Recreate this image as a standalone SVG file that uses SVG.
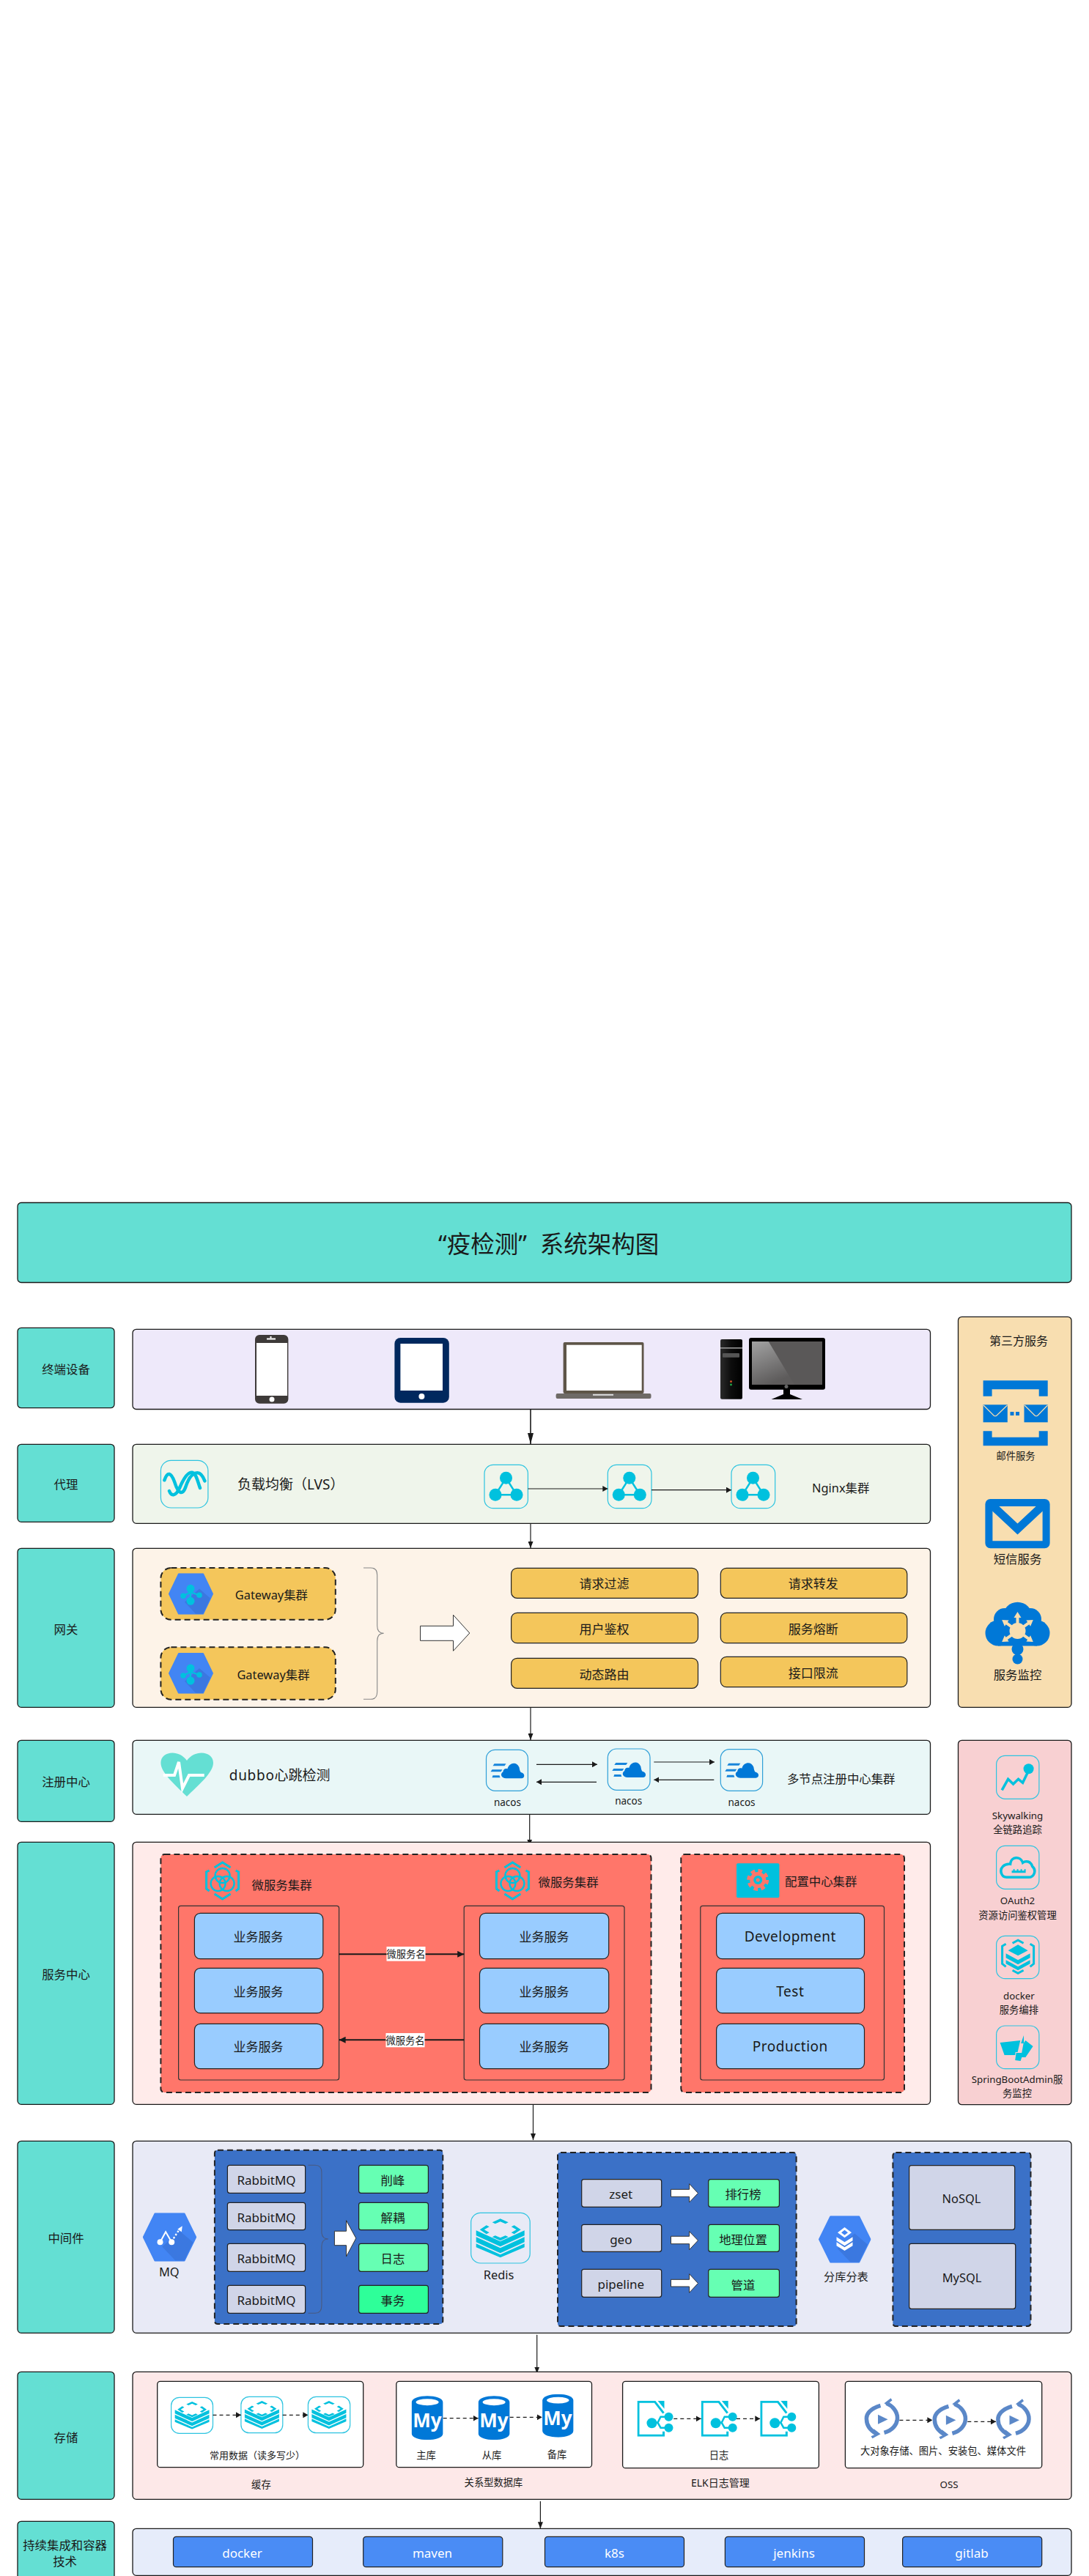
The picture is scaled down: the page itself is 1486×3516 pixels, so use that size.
<svg xmlns="http://www.w3.org/2000/svg" width="1486" height="3516" viewBox="0 0 1486 3516">
<style>
text{font-family:"Noto Sans","Noto Sans CJK SC",sans-serif;fill:#1a1a1a;text-anchor:middle;dominant-baseline:central}
.st{text-anchor:start}
.f13{font-size:13.3px}.f14{font-size:14px}.f16{font-size:16.4px}.f17{font-size:17px}.f19{font-size:19px}
.w{fill:#fff}
.b{stroke:#1a1a1a;stroke-width:1.3}
.lab{fill:#64dfd3;stroke:#1a1a1a;stroke-width:1.3}
.dash{stroke:#222;stroke-width:2;stroke-dasharray:8 5}
.ib{fill:none;stroke:#2cc4e0;stroke-width:1.2}
.ibn{fill:none;stroke:#2f9fd8;stroke-width:1.2}
.c{fill:#00c1de}
.ln{stroke:#00c1de;fill:none}
.blue{fill:#0078d7}
.yel{fill:#f4c65b;stroke:#222;stroke-width:1.2}
.sky{fill:#99ccff;stroke:#222;stroke-width:1.2}
.gry{fill:#d0d5e8;stroke:#222;stroke-width:1.2}
.grn{fill:#66ffb3;stroke:#222;stroke-width:1.2}
.btn{fill:#4a8cf5;stroke:#222;stroke-width:1.2}
.red{fill:#ff766a}
.navy{fill:#3b71c7}
.inr{fill:none;stroke:#333;stroke-width:1.2}
.wa{fill:#fff;stroke:#333;stroke-width:1}
.brace{fill:none;stroke:#888;stroke-width:1.1}
.cn{fill:none;stroke:#1a1a1a;stroke-width:1.2}
.dsh{fill:none;stroke:#1a1a1a;stroke-width:1.3;stroke-dasharray:5 4}
</style>
<defs>
<marker id="mBig" markerUnits="userSpaceOnUse" markerWidth="15" markerHeight="8" refX="15" refY="4" orient="auto"><path d="M0,0L15,4L0,8Z" fill="#1a1a1a"/></marker>
<marker id="mMid" markerUnits="userSpaceOnUse" markerWidth="9" markerHeight="7" refX="9" refY="3.5" orient="auto"><path d="M0,0L9,3.5L0,7Z" fill="#1a1a1a"/></marker>
<marker id="mSm" markerUnits="userSpaceOnUse" markerWidth="7" markerHeight="8" refX="7" refY="4" orient="auto"><path d="M0,0L7,4L0,8Z" fill="#1a1a1a"/></marker>
<marker id="mTh" markerUnits="userSpaceOnUse" markerWidth="9" markerHeight="9" refX="9" refY="4.5" orient="auto"><path d="M0,0L9,4.5L0,9Z" fill="#1a1a1a"/></marker>
<linearGradient id="gT" x1="0" x2="1" y1="0" y2="0"><stop offset="0" stop-color="#2a2a2a"/><stop offset=".5" stop-color="#0c0c0c"/><stop offset="1" stop-color="#000"/></linearGradient>
<linearGradient id="gS" x1="0" x2=".4" y1="0" y2="1"><stop offset="0" stop-color="#a2a2a2"/><stop offset="1" stop-color="#5d5b5b"/></linearGradient>
<symbol id="ngx" viewBox="0 0 60 60" overflow="visible"><path d="M29.500,18L15,41H44Z" fill="none" stroke="#00c1de" stroke-width="2.500"/><circle class="c" cx="29.500" cy="18" r="8.500"/><circle class="c" cx="15" cy="41" r="8.500"/><circle class="c" cx="44" cy="41" r="8.500"/></symbol>
<symbol id="nacos" viewBox="0 0 57 56" overflow="visible"><path class="blue" d="M27,39C21,39 18,33 23,30C23,26 27,25 29,26C31,18 41,15 45,24C46,30 47,31 48,31C53,32 53,39 48,39Z"/><path class="blue" d="M11,19H27L25,22H9ZM8,27H22L20,30H6ZM9,35H18L19,38H8Z" opacity=".9"/></symbol>
<symbol id="redis" viewBox="0 0 80 69"><g class="c"><path d="M40,8L51,13L47,15L40,12L33,15L29,13ZM21,17L25,19L18,23L25,27L21,29L12,23ZM59,17L68,23L59,29L55,27L62,23L55,19ZM33,31L40,34L47,31L51,33L40,38L29,33Z"/><path d="M7,24L40,39L73,24V31L40,46L7,31Z"/><path d="M7,33L40,48L73,33V40L40,55L7,40Z"/><path d="M7,42L40,57L73,42V47L40,61L7,47Z"/></g></symbol>
<symbol id="hex" viewBox="0 0 61 56" preserveAspectRatio="none"><path d="M14,1H47L60,28L47,55H14L1,28Z" fill="#4285f4" stroke="#4285f4" stroke-width="2" stroke-linejoin="round"/><path d="M42,21L57,34L47,55H37L22,39Z" fill="#3b78e0"/></symbol>
<g id="gwIn"><path class="ln" stroke-width="2.200" d="M30,20V38M30,26L20,31M30,26L42,30"/><circle class="c" cx="30" cy="21" r="5.500"/><circle class="c" cx="20" cy="31" r="3.800"/><circle class="c" cx="42" cy="30" r="3.800"/><circle class="c" cx="30" cy="38" r="5.500"/></g>
<symbol id="msv" viewBox="0 0 48 54"><path class="ln" stroke-width="3" d="M13,9L24,2L35,9M42,13L46,15V38L42,41M35,45L24,52L13,45M6,41L2,38V15L6,13"/><g class="ln" stroke-width="2.400"><circle cx="24" cy="20" r="10"/><circle cx="18" cy="31" r="10"/><circle cx="30" cy="31" r="10"/></g></symbol>
<symbol id="doc" viewBox="0 0 50 49"><path class="ln" stroke-width="3" d="M36,17L24,1.500H1.500V47.500H36V42"/><path class="c" d="M28,0H37V11Z"/><path class="ln" stroke-width="2.500" d="M20,30L28,30L32,22H43M28,30L32,37H43"/><circle class="c" cx="20" cy="30.500" r="7"/><circle class="c" cx="43" cy="22" r="6"/><circle class="c" cx="43" cy="37" r="6"/></symbol>
<symbol id="oss" viewBox="0 0 48 55" overflow="visible"><g fill="none" stroke="#5b88c8" stroke-width="5.500"><path d="M22,10C8,14 2,22 3,29C3,37 8,44 17,49"/><path d="M27,47C38,44 45,36 45,27C45,18 38,10 30,7"/></g><g fill="#5b88c8"><path d="M18.500,22.500L32,29L18.500,35.500Z"/><path d="M36,0L27,7L36,13L38,9L33,7L38,3Z"/><path d="M11,55L22,49L13,42L11,46L16,49L9,52Z"/></g></symbol>
<symbol id="my" viewBox="0 0 43 60"><path class="blue" d="M0,9C0,-3 43,-3 43,9V51C43,63 0,63 0,51Z"/><ellipse cx="21.500" cy="8.500" rx="15.500" ry="4.500" fill="#fff"/></symbol>
</defs>
<rect width="1486" height="3516" fill="#fff"/>

<g id="title"><rect x="24" y="1641.500" width="1438" height="109" rx="5" class="lab"/><text x="598" y="1697" font-size="32.500" class="st">“疫检测”<tspan dx="18">系统架构图</tspan></text></g>

<g id="connectors">
<path class="cn" style="stroke-width:1.600" d="M724,1923.500V1971" marker-end="url(#mBig)"/>
<path class="cn" d="M724,2079.300V2113" marker-end="url(#mMid)"/>
<path class="cn" d="M724,2330.300V2375" marker-end="url(#mMid)"/>
<path class="cn" d="M722.700,2476.300V2519.500" marker-end="url(#mMid)"/>
<path class="cn" d="M727.500,2872.300V2921" marker-end="url(#mMid)"/>
<path class="cn" d="M732.700,3186.700V3239.500" marker-end="url(#mMid)"/>
<path class="cn" d="M737.400,3414V3451.300" marker-end="url(#mMid)"/>
</g>

<g id="terminal-label"><rect x="24" y="1812.300" width="132" height="109.400" rx="5" class="lab"/><text x="90" y="1868" class="f16">终端设备</text></g>
<g id="terminal">
<rect x="181" y="1814.300" width="1088.500" height="109.200" rx="5" fill="#eee9fa" class="b"/>
<g id="phone"><rect x="348" y="1822" width="45.400" height="93.700" rx="6" fill="#3e3a39"/><rect x="350" y="1833" width="42" height="72" fill="#fff"/><circle cx="371" cy="1910" r="3.500" fill="#fff"/><rect x="364" y="1826.500" width="12" height="2" fill="#fff"/><rect x="368.500" y="1824" width="2" height="2.500" fill="#fff"/></g>
<g id="tablet"><rect x="538.400" y="1826" width="74.400" height="88.700" rx="8" fill="#00285e"/><rect x="546.400" y="1834" width="57.600" height="64" fill="#fff"/><circle cx="575.400" cy="1906" r="4" fill="#fff"/></g>
<g id="laptop"><rect x="768.600" y="1832" width="109.900" height="70" rx="2" fill="#5e5548"/><rect x="773" y="1835.700" width="102.700" height="62.300" fill="#fff"/><rect x="758.600" y="1902" width="129.900" height="7" rx="2" fill="#6e6a66"/><rect x="809" y="1902.800" width="28" height="2" fill="#ddd"/></g>
<g id="desktop"><rect x="983" y="1828" width="30" height="81.700" rx="2" fill="url(#gT)"/><rect x="983" y="1839" width="30" height="1.800" fill="#888"/><rect x="986" y="1847" width="23" height="5.700" rx="1" fill="#555"/><circle cx="997.500" cy="1885.700" r="1.400" fill="#d8552a"/><circle cx="997.500" cy="1890" r="1.400" fill="#1faa4a"/><rect x="1022" y="1826" width="104" height="70.700" rx="3" fill="#000"/><rect x="1026" y="1831" width="96" height="59" fill="#5a5858"/><path d="M1026,1831H1048.700L1084,1890H1026Z" fill="url(#gS)"/><circle cx="1073" cy="1892.500" r="2.500" fill="#666"/><path d="M1069,1896H1078V1903L1095,1910H1052.500L1069,1903Z" fill="#000"/></g>
</g>

<g id="proxy-label"><rect x="24" y="1971.300" width="132" height="106" rx="5" class="lab"/><text x="90" y="2025.700" class="f16">代理</text></g>
<g id="proxy">
<rect x="181" y="1971.300" width="1088.500" height="108" rx="5" fill="#eff5eb" class="b"/>
<g id="lvs"><rect x="219.400" y="1993.300" width="64.500" height="64.700" rx="14" class="ib"/><g fill="none" stroke="#00c1de" stroke-width="4.500" stroke-linecap="round"><path d="M224.400,2020.300C228.400,2008.300 233.400,2009.300 238.400,2023.300C243.400,2039.300 249.400,2041.300 253.400,2029.300C257.400,2017.300 262.400,2010.300 269.400,2010.300C274.400,2010.300 277.400,2016.300 279.400,2021.300"/><path d="M231,2035C234,2043 240,2042 245,2031C251,2017 257,2008 263,2010C268,2012 270,2023 273,2031"/></g></g>
<text x="324" y="2025.700" class="st f19">负载均衡（LVS）</text>
<g id="nginx1"><rect x="661" y="1999.300" width="59.400" height="59.400" rx="12" class="ib"/><use href="#ngx" x="661" y="1999.300" width="60" height="60"/></g>
<g id="nginx2"><rect x="829.300" y="1999.300" width="59.700" height="59.400" rx="12" class="ib"/><use href="#ngx" x="829.300" y="1999.300" width="60" height="60"/></g>
<g id="nginx3"><rect x="998" y="1999.300" width="59.700" height="59.400" rx="12" class="ib"/><use href="#ngx" x="998" y="1999.300" width="60" height="60"/></g>
<text x="1108" y="2030.700" class="st f16">Nginx集群</text>
<path class="cn" d="M720.400,2032H829.300" marker-end="url(#mSm)"/>
<path class="cn" d="M889,2033.700H998" marker-end="url(#mSm)"/>
</g>

<g id="gateway-label"><rect x="24" y="2113.300" width="132" height="217" rx="5" class="lab"/><text x="90" y="2223" class="f16">网关</text></g>
<g id="gateway">
<rect x="181" y="2113.300" width="1088.500" height="217" rx="5" fill="#fdf3e8" class="b"/>
<g id="gw1"><rect x="219.400" y="2140" width="238.400" height="70.700" rx="14" fill="#f4c65b" class="dash"/><use href="#hex" x="230" y="2147.300" width="61" height="56.400"/><use href="#gwIn" x="230" y="2147.300"/><text x="370.400" y="2176" class="f16">Gateway集群</text></g>
<g id="gw2"><rect x="219.400" y="2248.300" width="238.400" height="71.400" rx="14" fill="#f4c65b" class="dash"/><use href="#hex" x="230" y="2256" width="61" height="55.700"/><use href="#gwIn" x="230" y="2256"/><text x="373" y="2285.300" class="f16">Gateway集群</text></g>
<path class="brace" d="M496,2140H506Q514.700,2140 514.700,2150V2219Q514.700,2229.300 523.700,2229.300Q514.700,2229.300 514.700,2240V2309Q514.700,2319.300 506,2319.300H496"/>
<path class="wa" d="M573.500,2219.300H618.500V2204.300L640.800,2229L618.500,2253.300V2239.300H573.500Z"/>
<g id="b1"><rect x="697.600" y="2140.300" width="254.900" height="41" rx="8" class="yel"/><text x="824.500" y="2161" class="f17">请求过滤</text></g>
<g id="b2"><rect x="983.300" y="2140.300" width="254.500" height="41" rx="8" class="yel"/><text x="1109.800" y="2161" class="f17">请求转发</text></g>
<g id="b3"><rect x="697.600" y="2201.300" width="254.900" height="41.400" rx="8" class="yel"/><text x="824.500" y="2223" class="f17">用户鉴权</text></g>
<g id="b4"><rect x="983.300" y="2201.300" width="254.500" height="41.400" rx="8" class="yel"/><text x="1109.800" y="2223" class="f17">服务熔断</text></g>
<g id="b5"><rect x="697.600" y="2263.300" width="254.900" height="41" rx="8" class="yel"/><text x="824.500" y="2285" class="f17">动态路由</text></g>
<g id="b6"><rect x="983.300" y="2261.300" width="254.500" height="41.400" rx="8" class="yel"/><text x="1109.800" y="2283" class="f17">接口限流</text></g>
</g>

<g id="third-party">
<rect x="1307.500" y="1797.300" width="154.500" height="533" rx="5" fill="#f8deb0" class="b"/>
<text x="1390" y="1830" font-size="16">第三方服务</text>
<g id="mail"><path class="blue" d="M1341.600,1884.300H1429.700V1905.700H1417.700V1896.300H1353.600V1905.700H1341.600ZM1341.600,1953.300H1353.600V1961.700H1417.700V1953.300H1429.700V1973.300H1341.600Z"/><rect class="blue" x="1341.600" y="1917.300" width="33.200" height="24"/><rect class="blue" x="1397.500" y="1917.300" width="32.200" height="24"/><path d="M1342,1918L1356,1932Q1358,1933.500 1360,1932L1374.500,1918M1398,1918L1412,1932Q1414,1933.500 1416,1932L1429.500,1918" fill="none" stroke="#f8deb0" stroke-width="1.200"/><rect class="blue" x="1378.500" y="1927" width="5" height="5"/><rect class="blue" x="1386" y="1927" width="5" height="5"/><text x="1386" y="1987.300" class="f13">邮件服务</text></g>
<g id="sms"><rect x="1349.400" y="2051" width="78.200" height="57.300" rx="2" fill="none" stroke="#0078d7" stroke-width="10"/><path d="M1351,2052L1388.500,2087L1426,2052" fill="none" stroke="#0078d7" stroke-width="11"/><text x="1388.500" y="2127.300" class="f16">短信服务</text></g>
<g id="monitor"><g class="blue"><circle cx="1388.500" cy="2207" r="20.300"/><circle cx="1371" cy="2210" r="15"/><circle cx="1406" cy="2210" r="15"/><circle cx="1362" cy="2229" r="17.500"/><circle cx="1415" cy="2229" r="17.500"/><rect x="1362" y="2215" width="53" height="31.500"/><circle cx="1388.500" cy="2251" r="8"/><circle cx="1388.500" cy="2264.500" r="7"/></g><g transform="translate(1388.500 2226)" fill="#f8deb0"><circle r="11"/><path d="M-2,-9V-18H-5L0,-26L5,-18H2V-9Z"/><path d="M-2,-9V-18H-5L0,-26L5,-18H2V-9Z" transform="rotate(55)"/><path d="M-2,-9V-18H-5L0,-26L5,-18H2V-9Z" transform="rotate(-55)"/><path d="M-2,-9V-18H-5L0,-26L5,-18H2V-9Z" transform="rotate(125)"/><path d="M-2,-9V-18H-5L0,-26L5,-18H2V-9Z" transform="rotate(-125)"/></g><text x="1388.500" y="2285.700" class="f16">服务监控</text></g>
</g>

<g id="registry-label"><rect x="24" y="2375.300" width="132" height="111" rx="5" class="lab"/><text x="90" y="2431.700" class="f16">注册中心</text></g>
<g id="registry">
<rect x="181" y="2375.300" width="1088.500" height="101" rx="5" fill="#e9f7f7" class="b"/>
<g id="heart"><path d="M255,2452C240,2437 219.400,2420 219.400,2406C219.400,2390 244,2387 255,2403C266,2387 291,2390 291,2406C291,2420 270,2437 255,2452Z" fill="#64dfd3"/><path d="M222.700,2423H238L244,2405L249,2441L258,2423H278.700" fill="none" stroke="#fff" stroke-width="4"/></g>
<text x="312.800" y="2422.700" class="st f19"><tspan letter-spacing=".7">dubbo</tspan>心跳检测</text>
<g id="nacos1"><rect x="663.500" y="2388.300" width="56.900" height="56" rx="12" class="ibn"/><use href="#nacos" x="663.500" y="2388.300" width="57" height="56"/><text x="692.400" y="2460" font-size="13.500">nacos</text></g>
<g id="nacos2"><rect x="829.300" y="2387" width="57.700" height="56.300" rx="12" class="ibn"/><use href="#nacos" x="829.300" y="2387" width="57" height="56"/><text x="857.700" y="2457.700" font-size="13.500">nacos</text></g>
<g id="nacos3"><rect x="983.300" y="2387.700" width="57.300" height="56.600" rx="12" class="ibn"/><use href="#nacos" x="983.300" y="2387.700" width="57" height="56"/><text x="1012" y="2460" font-size="13.500">nacos</text></g>
<path class="cn" d="M732,2408.300H815" marker-end="url(#mSm)"/>
<path class="cn" d="M814,2432.300H732" marker-end="url(#mSm)"/>
<path class="cn" d="M892.300,2405H975" marker-end="url(#mSm)"/>
<path class="cn" d="M974.300,2429.300H892.300" marker-end="url(#mSm)"/>
<text x="1147.700" y="2427.700" class="f16">多节点注册中心集群</text>
</g>

<g id="ops">
<rect x="1307.500" y="2375.300" width="154.500" height="497.400" rx="5" fill="#f8d0d2" class="b"/>
<g id="skywalking"><rect x="1359.600" y="2396.300" width="58.300" height="59" rx="12" class="ib"/><path d="M1367.200,2443.300L1375.600,2428.300L1382.600,2435L1389.600,2428.300L1395.600,2433.300L1403.600,2416.600" class="ln" stroke-width="3.500"/><circle class="c" cx="1403.600" cy="2414.300" r="7"/><text x="1388.500" y="2477.700" class="f13">Skywalking</text><text x="1388.500" y="2497.300" class="f13">全链路追踪</text></g>
<g id="oauth"><rect x="1359.600" y="2519.300" width="58.300" height="59" rx="12" class="ib"/><path transform="translate(1359.600 2519.300)" class="ln" stroke-width="3.500" d="M14,43H44C52,43 55,33 49,28C47,21 40,20 36,23C33,14 20,14 19,25C11,24 4,30 7,38C8,41 11,43 14,43Z"/><path transform="translate(1359.600 2519.300)" class="c" d="M21,37V34H23V32H25V34H28V32H30V34H33V32H35V34H38V32H40V37Z"/><text x="1388.500" y="2594.300" class="f13">OAuth2</text><text x="1388.500" y="2614" class="f13">资源访问鉴权管理</text></g>
<g id="docker"><rect x="1359.600" y="2642.300" width="58.300" height="58.400" rx="12" class="ib"/><g transform="translate(1359.600 2642.300)"><path class="ln" stroke-width="3" d="M13,11L8,14V38L13,42M46,11L51,14V38L46,42M22,10L29.500,6L37,10M22,47L29.500,51L37,47"/><path class="c" d="M29.500,12L43,20L29.500,27L16,20ZM13,24L29.500,33L46,24V30L29.500,39L13,30ZM13,33L29.500,42L46,33V38L29.500,47L13,38Z"/></g><text x="1390.400" y="2723.700" class="f13">docker</text><text x="1390.400" y="2743.300" class="f13">服务编排</text></g>
<g id="sba"><rect x="1359.600" y="2765" width="58.300" height="58.700" rx="12" class="ib"/><path transform="translate(1359.600 2765)" class="c" d="M5,23L32.700,20L29,36H26L25.600,40H11ZM39.800,20L50,28L39.800,43H33.500L37,24ZM37.400,13L33.500,24H37.500ZM27,37H36.600L33,48L25.600,47Z"/><text x="1388" y="2838.300" class="f13">SpringBootAdmin服</text><text x="1388" y="2857.300" class="f13">务监控</text></g>
</g>

<g id="service-label"><rect x="24" y="2514.300" width="132" height="358" rx="5" class="lab"/><text x="90" y="2694.700" class="f16">服务中心</text></g>
<g id="service">
<rect x="181" y="2514.300" width="1088.500" height="358" rx="5" fill="#ffebea" class="b"/>
<g id="ms-cluster"><rect x="219.400" y="2531" width="669.100" height="325" rx="5" class="red dash"/>
<use href="#msv" x="279.600" y="2540" width="48" height="54"/><text x="343.600" y="2572.300" class="st f16">微服务集群</text>
<use href="#msv" x="675.400" y="2540" width="48" height="54"/><text x="734.600" y="2568.300" class="st f16">微服务集群</text>
<rect x="243.600" y="2601.300" width="219" height="237.700" rx="3" class="inr"/>
<rect x="633.200" y="2601.300" width="218.800" height="237.700" rx="3" class="inr"/>
<g id="s1"><rect x="265.400" y="2611.300" width="175.400" height="62.400" rx="8" class="sky"/><text x="352.600" y="2643.300" class="f17">业务服务</text></g>
<g id="s2"><rect x="265.400" y="2686.300" width="175.400" height="61.400" rx="8" class="sky"/><text x="352.600" y="2718" class="f17">业务服务</text></g>
<g id="s3"><rect x="265.400" y="2762.300" width="175.400" height="61.400" rx="8" class="sky"/><text x="352.600" y="2793" class="f17">业务服务</text></g>
<g id="s4"><rect x="654.500" y="2611.300" width="176.200" height="62.400" rx="8" class="sky"/><text x="742.600" y="2643.300" class="f17">业务服务</text></g>
<g id="s5"><rect x="654.500" y="2686.300" width="176.200" height="61.400" rx="8" class="sky"/><text x="742.600" y="2718" class="f17">业务服务</text></g>
<g id="s6"><rect x="654.500" y="2762.300" width="176.200" height="61.400" rx="8" class="sky"/><text x="742.600" y="2793" class="f17">业务服务</text></g>
<path class="cn" style="stroke-width:2" d="M462.600,2667.300H633.200" marker-end="url(#mTh)"/>
<rect x="527.500" y="2657" width="53" height="19.700" fill="#fff"/><text x="554" y="2667" class="f13">微服务名</text>
<path class="cn" style="stroke-width:2" d="M633.200,2784.300H462.600" marker-end="url(#mTh)"/>
<rect x="526.500" y="2775" width="53" height="19.300" fill="#fff"/><text x="553" y="2784.500" class="f13">微服务名</text>
</g>
<g id="cfg-cluster"><rect x="929.300" y="2531" width="304.700" height="325" rx="5" class="red dash"/>
<rect x="1005" y="2543.300" width="58.400" height="47" rx="2" class="c"/>
<g id="gear"><circle cx="1034.200" cy="2566" r="12.500" fill="none" stroke="#ff766a" stroke-width="5" stroke-dasharray="5.500 4.300"/><circle cx="1034.200" cy="2566" r="11" class="red"/><circle cx="1034.200" cy="2566" r="6" class="c"/><circle cx="1034.200" cy="2566" r="2.500" class="red"/></g>
<text x="1071" y="2567.700" class="st f16">配置中心集群</text>
<rect x="955.800" y="2601.300" width="250.700" height="237.700" rx="3" class="inr"/>
<g id="c1"><rect x="977.600" y="2611.300" width="201.900" height="62.400" rx="8" class="sky"/><text x="1078.300" y="2643.300" class="f19" letter-spacing=".5">Development</text></g>
<g id="c2"><rect x="977.600" y="2686.300" width="201.900" height="61.400" rx="8" class="sky"/><text x="1078.300" y="2718" class="f19" letter-spacing=".5">Test</text></g>
<g id="c3"><rect x="977.600" y="2762.300" width="201.900" height="61.400" rx="8" class="sky"/><text x="1078.300" y="2793" class="f19" letter-spacing=".5">Production</text></g>
</g>
</g>

<g id="middleware-label"><rect x="24" y="2922.300" width="132" height="262" rx="5" class="lab"/><text x="90" y="3054.300" class="f16">中间件</text></g>
<g id="middleware">
<rect x="181" y="2922.300" width="1281" height="262" rx="5" fill="#e8eaf6" class="b"/>
<g id="mq"><use href="#hex" x="194.800" y="3020.300" width="73.400" height="66.400"/><g fill="#fff" transform="translate(194.800 3020.300)"><circle cx="23.700" cy="40" r="4"/><circle cx="39.400" cy="40" r="4"/><path d="M23.700,40L31.300,26L39.400,40" fill="none" stroke="#fff" stroke-width="2"/><path d="M42,35L51,21" fill="none" stroke="#fff" stroke-width="2.400" stroke-dasharray="2.500 2.500"/><path d="M54,18L53,26L47.500,22.500Z"/></g><text x="230.800" y="3100" class="f16">MQ</text></g>
<g id="rabbit-cluster"><rect x="292.900" y="2934.700" width="311.400" height="237.300" rx="4" class="navy dash"/>
<g id="r1"><rect x="310.400" y="2955.300" width="106.200" height="38" rx="3" class="gry"/><text x="363.500" y="2975.300" class="f17">RabbitMQ</text></g>
<g id="r2"><rect x="310.400" y="3006.300" width="106.200" height="37.400" rx="3" class="gry"/><text x="363.500" y="3026" class="f17">RabbitMQ</text></g>
<g id="r3"><rect x="310.400" y="3062.300" width="106.200" height="38" rx="3" class="gry"/><text x="363.500" y="3082" class="f17">RabbitMQ</text></g>
<g id="r4"><rect x="310.400" y="3119.300" width="106.200" height="38" rx="3" class="gry"/><text x="363.500" y="3139" class="f17">RabbitMQ</text></g>
<path class="brace" style="stroke:#4a5a80" d="M420.400,2955.300H430Q438.900,2955.300 438.900,2965V3046Q438.900,3056 447.900,3056Q438.900,3056 438.900,3066V3147Q438.900,3157.300 430,3157.300H420.400"/>
<path class="wa" d="M456.400,3045.300H472.500V3030.700L485.800,3055L472.500,3080V3064.700H456.400Z"/>
<g id="g1"><rect x="489.600" y="2955.300" width="94.800" height="38" rx="3" class="grn"/><text x="536" y="2975.300" class="f16">削峰</text></g>
<g id="g2"><rect x="489.600" y="3006.300" width="94.800" height="37.400" rx="3" class="grn"/><text x="536" y="3026" class="f16">解耦</text></g>
<g id="g3"><rect x="489.600" y="3062.300" width="94.800" height="38" rx="3" class="grn"/><text x="536" y="3082.700" class="f16">日志</text></g>
<g id="g4"><rect x="489.600" y="3119.300" width="94.800" height="38" rx="3" class="grn" style="fill:#2eff99"/><text x="536" y="3139" class="f16">事务</text></g>
</g>
<g id="redis-node"><rect x="642.700" y="3020.300" width="80.500" height="68.700" rx="13" class="ib"/><use href="#redis" x="642.700" y="3020.300" width="80" height="69"/><text x="680.600" y="3104.700" class="f16">Redis</text></g>
<g id="redis-cluster"><rect x="761" y="2938" width="325.600" height="237" rx="4" class="navy dash"/>
<g id="z1"><rect x="793.700" y="2974.700" width="109" height="37.600" rx="3" class="gry"/><text x="847.300" y="2994.300" class="f17">zset</text></g>
<g id="z2"><rect x="793.700" y="3036.300" width="109" height="37" rx="3" class="gry"/><text x="847.300" y="3056.700" class="f17">geo</text></g>
<g id="z3"><rect x="793.700" y="3097.300" width="109" height="38" rx="3" class="gry"/><text x="847.300" y="3117.300" class="f17">pipeline</text></g>
<path class="wa" d="M915.500,2988.300H940.600V2980.700L952.500,2993.500L940.600,3006V2998.300H915.500Z"/>
<path class="wa" d="M915.500,3052.300H940.600V3045.700L952.500,3058L940.600,3070.700V3062.700H915.500Z"/>
<path class="wa" d="M915.500,3111.300H940.600V3103.700L952.500,3116.500L940.600,3129.300V3121H915.500Z"/>
<g id="y1"><rect x="966.700" y="2974.700" width="96.700" height="37.600" rx="3" class="grn"/><text x="1014" y="2994.300" class="f16">排行榜</text></g>
<g id="y2"><rect x="966.700" y="3036.300" width="96.700" height="37" rx="3" class="grn"/><text x="1014" y="3056.700" class="f16">地理位置</text></g>
<g id="y3"><rect x="966.700" y="3097.300" width="96.700" height="38" rx="3" class="grn"/><text x="1014" y="3118" class="f16">管道</text></g>
</g>
<g id="sharding"><use href="#hex" x="1117" y="3024.300" width="71.500" height="64.400"/><g fill="#fff" transform="translate(1117 3024.300)"><path d="M35.500,15.700L45,23L35.500,30L26,23Z"/><path d="M35.500,19.500L40,23L35.500,26.500L31,23Z" fill="#4285f4"/><path d="M24.500,29L35.500,36L46.500,29V34L35.500,41L24.500,34ZM24.500,36L35.500,43L46.500,36V41L35.500,47.700L24.500,41Z"/></g><text x="1154.400" y="3106.700" font-size="15.200">分库分表</text></g>
<g id="db-cluster"><rect x="1218.400" y="2938" width="188.100" height="237" rx="4" class="navy dash"/>
<g id="nosql"><rect x="1240.600" y="2955.700" width="144.100" height="87.600" rx="3" class="gry"/><text x="1312" y="3000" class="f16">NoSQL</text></g>
<g id="mysql"><rect x="1240.600" y="3062.300" width="145.100" height="89" rx="3" class="gry"/><text x="1312.500" y="3108.300" class="f16">MySQL</text></g>
</g>
</g>

<g id="storage-label"><rect x="24" y="3237.300" width="132" height="174" rx="5" class="lab"/><text x="90" y="3326" class="f16">存储</text></g>
<g id="storage">
<rect x="181" y="3237.300" width="1281" height="174" rx="5" fill="#fde8e8" class="b"/>
<g id="cache"><rect x="214.700" y="3250.300" width="281" height="117.400" rx="4" fill="#fff" class="b"/>
<rect x="233.600" y="3272.300" width="56.900" height="49" rx="11" class="ib"/><use href="#redis" x="233.600" y="3272.300" width="57" height="49"/>
<rect x="328.900" y="3271.300" width="56.900" height="49.400" rx="11" class="ib"/><use href="#redis" x="328.900" y="3271.300" width="57" height="49.400"/>
<rect x="420.400" y="3271.300" width="57.300" height="49.400" rx="11" class="ib"/><use href="#redis" x="420.400" y="3271.300" width="57" height="49.400"/>
<path class="dsh" d="M290.500,3296.300H328.900" marker-end="url(#mSm)"/><path class="dsh" d="M385.800,3296.300H420.400" marker-end="url(#mSm)"/>
<text x="351" y="3351.300" font-size="13">常用数据（读多写少）</text></g>
<text x="356.400" y="3391" class="f13">缓存</text>
<g id="rdb"><rect x="540.800" y="3250.300" width="266.700" height="117.400" rx="4" fill="#fff" class="b"/>
<use href="#my" x="561.600" y="3270" width="43" height="60.300"/><text x="583" y="3303" font-size="26" font-weight="bold" class="w">My</text>
<use href="#my" x="652.600" y="3270" width="43" height="60.300"/><text x="674" y="3303" font-size="26" font-weight="bold" class="w">My</text>
<use href="#my" x="739.800" y="3267.700" width="43" height="59"/><text x="761" y="3300" font-size="26" font-weight="bold" class="w">My</text>
<path class="dsh" d="M604.700,3300.700H652.600" marker-end="url(#mSm)"/><path class="dsh" d="M695.700,3299.300H739.800" marker-end="url(#mSm)"/>
<text x="581.500" y="3351" class="f13">主库</text><text x="671" y="3351" class="f13">从库</text><text x="760" y="3350" class="f13">备库</text></g>
<text x="673.500" y="3387.700" class="f13">关系型数据库</text>
<g id="elk"><rect x="849.600" y="3250.300" width="267.800" height="118.400" rx="4" fill="#fff" class="b"/>
<use href="#doc" x="869.500" y="3276.700" width="50" height="49"/><use href="#doc" x="956.700" y="3276.700" width="50" height="49"/><use href="#doc" x="1037.300" y="3276.700" width="50" height="49"/>
<path class="dsh" d="M919.300,3301.300H956.700" marker-end="url(#mSm)"/><path class="dsh" d="M1005,3301.300H1037.300" marker-end="url(#mSm)"/>
<text x="981" y="3351" class="f13">日志</text></g>
<text x="982.800" y="3388" class="f14">ELK日志管理</text>
<g id="oss-node"><rect x="1153.400" y="3250.300" width="268.300" height="118.400" rx="4" fill="#fff" class="b"/>
<use href="#oss" x="1179.500" y="3273.300" width="48" height="55"/><use href="#oss" x="1272.400" y="3274.300" width="48" height="55"/><use href="#oss" x="1359" y="3274.300" width="48" height="55"/>
<path class="dsh" d="M1227.400,3303.300H1272.400" marker-end="url(#mSm)"/><path class="dsh" d="M1320.300,3305.300H1359" marker-end="url(#mSm)"/>
<text x="1287" y="3345.300" class="f13">大对象存储、图片、安装包、媒体文件</text></g>
<text x="1295" y="3391" class="f13">OSS</text>
</g>

<g id="ci-label"><rect x="24" y="3441.300" width="132" height="109" rx="5" class="lab"/><text x="88.600" y="3473.700" class="f16">持续集成和容器</text><text x="88.600" y="3495.700" class="f16">技术</text></g>
<g id="ci">
<rect x="181" y="3451.300" width="1281" height="64" rx="5" fill="#e6ecfa" class="b"/>
<g id="i1"><rect x="236.500" y="3462.300" width="190" height="41.400" rx="4" class="btn"/><text x="330.500" y="3484.300" class="f17 w">docker</text></g>
<g id="i2"><rect x="495.700" y="3462.300" width="190.100" height="41.400" rx="4" class="btn"/><text x="590" y="3484.300" class="f17 w">maven</text></g>
<g id="i3"><rect x="743.500" y="3462.300" width="190" height="41.400" rx="4" class="btn"/><text x="838.500" y="3484.300" class="f17 w">k8s</text></g>
<g id="i4"><rect x="989.400" y="3462.300" width="190.100" height="41.400" rx="4" class="btn"/><text x="1083.500" y="3484.300" class="f17 w">jenkins</text></g>
<g id="i5"><rect x="1231.600" y="3462.300" width="190.100" height="41.400" rx="4" class="btn"/><text x="1326" y="3484.300" class="f17 w">gitlab</text></g>
</g>
</svg>
